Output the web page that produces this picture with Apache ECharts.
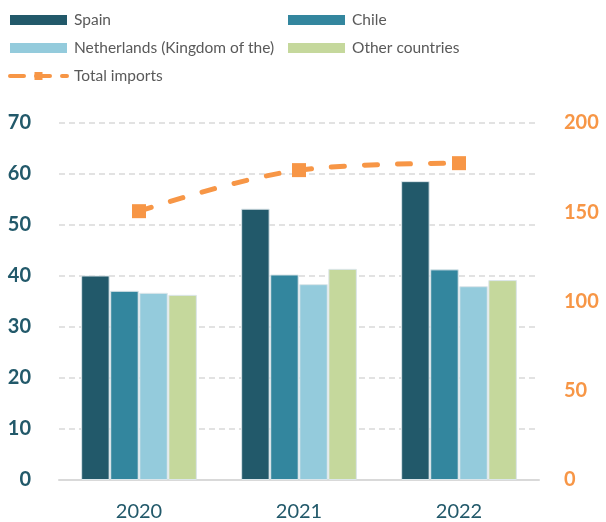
<!DOCTYPE html>
<html>
<head>
<meta charset="utf-8">
<script src="https://cdn.jsdelivr.net/npm/echarts@6/dist/echarts.min.js"></script>
<style>
  html, body { margin: 0; padding: 0; background: #ffffff; }
  #chart { width: 606px; height: 522px; }
</style>
</head>
<body>
<div id="chart"></div>
<script>
// Import values by year (left axis) and total imports (right axis)
const years = ['2020', '2021', '2022'];
const spain = [40.1, 53.2, 58.6];
const chile = [37.1, 40.3, 41.3];
const netherlands = [36.7, 38.4, 38.0];
const otherCountries = [36.3, 41.4, 39.2];
const totalImports = [150.6, 173.6, 177.5];
const leftTicks = [0, 10, 20, 30, 40, 50, 60, 70];
const rightTicks = [0, 50, 100, 150, 200];

const FONT = 'Lato, "Open Sans", sans-serif';
const TEAL = '#22596a';
const ORANGE = '#f79646';

const chart = echarts.init(document.getElementById('chart'), null, { renderer: 'canvas' });

function bar(name, data, color) {
  return {
    name: name,
    type: 'bar',
    yAxisIndex: 0,
    data: data,
    barWidth: 28.5,
    barGap: '2%',
    itemStyle: { color: color, borderColor: '#dce6ea', borderWidth: 1 },
    emphasis: { disabled: true }
  };
}

const legendText = { fontFamily: FONT, fontSize: 15.5, color: '#595959', lineHeight: 18, padding: [0, 0, 0, 2] };

chart.setOption({
  animation: false,
  legend: [
    {
      data: [
        { name: 'Spain', icon: 'rect' },
        { name: 'Netherlands (Kingdom of the)', icon: 'rect' },
        { name: 'Total imports', lineStyle: { width: 4, type: [14, 12], cap: 'round' } }
      ],
      orient: 'vertical', left: 8, top: 11, padding: 0,
      itemWidth: 57, itemHeight: 10, itemGap: 10,
      itemStyle: { borderWidth: 0 },
      textStyle: legendText
    },
    {
      data: [
        { name: 'Chile', icon: 'rect' },
        { name: 'Other countries', icon: 'rect' }
      ],
      orient: 'vertical', left: 288, top: 11, padding: 0,
      itemWidth: 57, itemHeight: 10, itemGap: 10,
      itemStyle: { borderWidth: 0 },
      textStyle: legendText
    }
  ],
  grid: { left: 59, right: 67, top: 123, bottom: 42 },
  xAxis: {
    type: 'category',
    data: years,
    axisTick: { show: false },
    axisLine: { lineStyle: { color: '#d9d9d9', width: 2 } },
    axisLabel: { fontFamily: FONT, fontSize: 20, color: TEAL, margin: 22 }
  },
  yAxis: [
    {
      type: 'value',
      min: leftTicks[0], max: leftTicks[leftTicks.length - 1], interval: 10,
      axisLine: { show: false }, axisTick: { show: false },
      axisLabel: { fontFamily: FONT, fontSize: 20, fontWeight: 'bold', color: TEAL, margin: 28 },
      splitLine: { lineStyle: { color: '#d9d9d9', type: [6, 4], width: 1.5 } }
    },
    {
      type: 'value',
      min: rightTicks[0], max: rightTicks[rightTicks.length - 1], interval: 50,
      position: 'right',
      axisLine: { show: false }, axisTick: { show: false },
      axisLabel: { fontFamily: FONT, fontSize: 20, fontWeight: 'bold', color: ORANGE, margin: 25, align: 'left' },
      splitLine: { show: false }
    }
  ],
  series: [
    bar('Spain', spain, '#22596a'),
    bar('Chile', chile, '#33869e'),
    bar('Netherlands (Kingdom of the)', netherlands, '#94cbdc'),
    bar('Other countries', otherCountries, '#c5d89c'),
    {
      name: 'Total imports',
      type: 'line',
      yAxisIndex: 1,
      data: totalImports,
      smooth: 0.35,
      symbol: 'rect',
      symbolSize: 14,
      z: 5,
      itemStyle: { color: ORANGE },
      lineStyle: { color: ORANGE, width: 5, type: [13, 20], cap: 'round' },
      emphasis: { disabled: true }
    }
  ]
});
</script>
</body>
</html>
